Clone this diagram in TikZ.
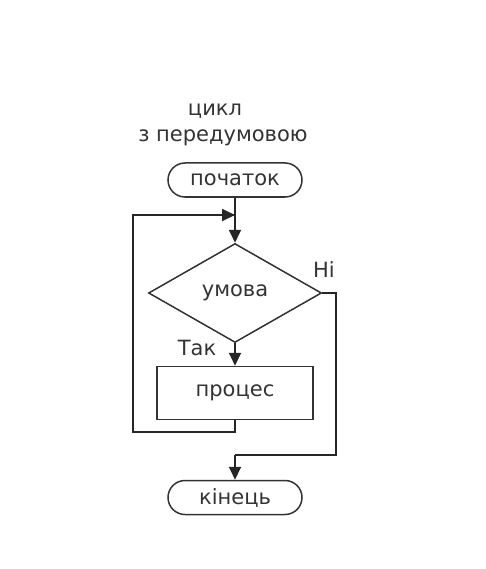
\documentclass[tikz,border=0pt]{standalone}
\usepackage{fontspec}
\setmainfont{DejaVu Sans}
\usetikzlibrary{shapes.geometric,arrows.meta}
\begin{document}
\begin{tikzpicture}[x=1pt,y=-1pt,
  txt/.style={font=\fontsize{21}{24}\selectfont,text=black!80},
  line/.style={draw=black!85,line width=1.8pt},
  arr/.style={line,-{Triangle[length=13pt,width=12pt]}},
  shp/.style={txt,draw=black!80,line width=1.5pt,inner sep=0pt},
  term/.style={shp,rounded corners=17pt,minimum width=134pt,minimum height=34pt},
  box/.style={shp,minimum width=156pt,minimum height=53pt},
  cond/.style={shp,diamond,aspect=1.75,minimum width=173pt,minimum height=99pt},
  lbl/.style={txt,inner sep=0pt,anchor=base}]
\useasboundingbox (0,0) rectangle (485,569);
\node[lbl] (t1) at (215,116) {цикл};
\node[lbl] (t2) at (223,142) {з передумовою};
\node[term] (start) at (235,180) {початок};
\node[cond] (c) at (235,293) {умова};
\node[box] (p) at (235,393) {процес};
\node[term] (end) at (235,497.5) {кінець};
\coordinate (j) at (235,215);
\coordinate (lb) at (235,432);
\coordinate (ll) at (133,432);
\coordinate (lt) at (133,215);
\coordinate (r1) at (336,293);
\coordinate (r2) at (336,455);
\coordinate (r3) at (235,455);
\draw[line] (start.south) -- (j);
\draw[arr] (j) -- (c.north);
\draw[arr] (c.south) -- (p.north);
\draw[line] (p.south) -- (lb) -- (ll) -- (lt) -- (j);
\draw[arr] (lt) -- (j);
\draw[line] (c.east) -- (r1) -- (r2) -- (r3);
\draw[arr] (r3) -- (end.north);
\node[lbl] (ni) at (324,277) {Ні};
\node[lbl] (tak) at (197,355) {Так};
\end{tikzpicture}
\end{document}
